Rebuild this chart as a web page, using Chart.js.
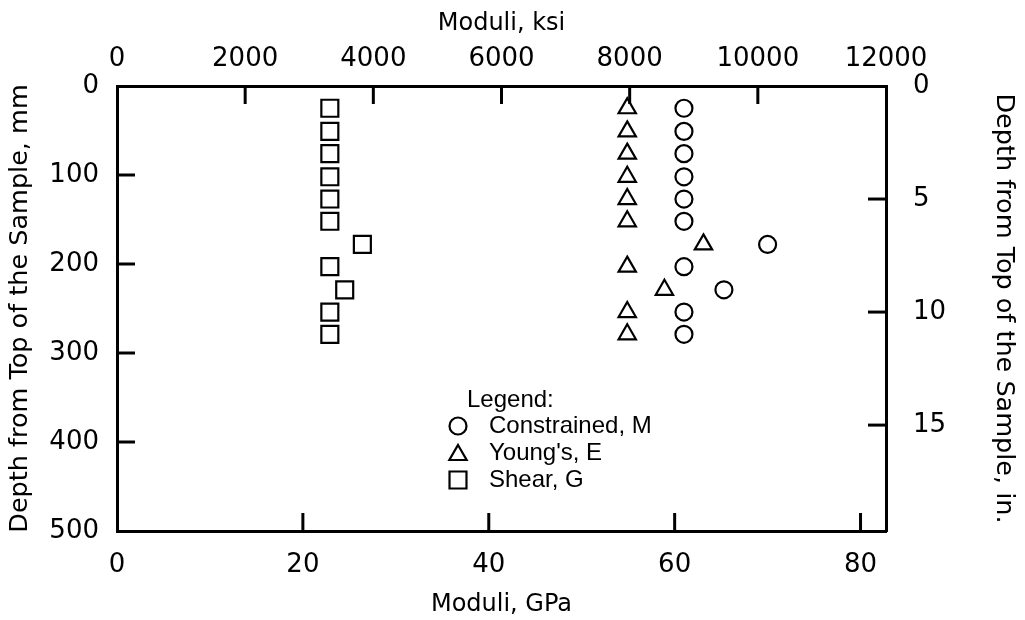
<!DOCTYPE html>
<html>
<head>
<meta charset="utf-8">
<title>Moduli vs depth</title>
<script src="https://cdn.jsdelivr.net/npm/chart.js@4.4.0/dist/chart.umd.min.js"></script>
<style>
    body { margin: 0; background: #fff; }
    #wrap { width: 1025px; height: 620px; }
</style>
</head>
<body>
<div id="wrap"><canvas id="modChart" width="1025" height="620"></canvas></div>
<script>
'use strict';

// depth of each measurement, mm (1 in. steps)
const depthMm = [25, 51, 76, 102, 127, 152, 178, 203, 229, 254, 279];

// moduli, GPa
const constrainedM = [61.0, 61.0, 61.0, 61.0, 61.0, 61.0, 70.0, 61.0, 65.3, 61.0, 61.0];
const youngsE = [54.9, 54.9, 54.9, 54.9, 54.9, 54.9, 63.1, 54.9, 58.9, 54.9, 54.9];
const shearG = [22.9, 22.9, 22.9, 22.9, 22.9, 22.9, 26.4, 22.9, 24.5, 22.9, 22.9];

const seriesNames = ['Constrained, M', "Young's, E", 'Shear, G'];
const seriesStyles = ['circle', 'triangle', 'rect'];
const seriesRadius = [8.5, 10, 12];

// axis limits: 12000 ksi on top == 82.74 GPa on the bottom, 500 mm == 19.685 in.
const gpaMax = 82.74;
const ksiMax = 12000;
const mmMax = 500;
const inMax = 19.685;

const tickFont = { family: 'DejaVu Sans', size: 26 };
const titleFont = { family: 'DejaVu Sans', size: 24 };
const sideTitleFont = { family: 'DejaVu Sans', size: 25.5 };

Chart.defaults.color = '#000';

function toPoints(values) {
    return values.map((v, i) => ({ x: v, y: depthMm[i] }));
}

function makeDataset(i, values) {
    return {
        label: seriesNames[i],
        data: toPoints(values),
        showLine: false,
        pointStyle: seriesStyles[i],
        pointRadius: seriesRadius[i],
        pointHoverRadius: seriesRadius[i],
        pointBorderWidth: 2.2,
        borderColor: '#000',
        backgroundColor: 'rgba(0,0,0,0)',
        xAxisID: 'x',
        yAxisID: 'y'
    };
}

// tick marks pointing into the plot box
const innerTicks = {
    id: 'innerTicks',
    afterDatasetsDraw(chart) {
        const { ctx, chartArea: area, scales } = chart;
        const len = 18;
        ctx.save();
        ctx.strokeStyle = '#000';
        ctx.lineWidth = 3;
        ['x', 'x2', 'y', 'y2'].forEach(id => {
            const s = scales[id];
            s.ticks.forEach(t => {
                if (t.value <= s.min || t.value >= s.max) return;
                const p = s.getPixelForValue(t.value);
                ctx.beginPath();
                if (id === 'x') { ctx.moveTo(p, area.bottom); ctx.lineTo(p, area.bottom - len); }
                if (id === 'x2') { ctx.moveTo(p, area.top); ctx.lineTo(p, area.top + len); }
                if (id === 'y') { ctx.moveTo(area.left, p); ctx.lineTo(area.left + len, p); }
                if (id === 'y2') { ctx.moveTo(area.right, p); ctx.lineTo(area.right - len, p); }
                ctx.stroke();
            });
        });
        ctx.restore();
    }
};

// the "Legend:" block sitting inside the plot
const boxLegend = {
    id: 'boxLegend',
    afterDraw(chart) {
        const ctx = chart.ctx;
        const x0 = 467, markX = 458, textX = 489;
        const rowY = [426, 453, 480];
        ctx.save();
        ctx.fillStyle = '#000';
        ctx.font = '24px "Liberation Sans", Arial, sans-serif';
        ctx.textBaseline = 'middle';
        ctx.fillText('Legend:', x0, 400);
        chart.data.datasets.forEach((ds, i) => {
            ctx.strokeStyle = '#000';
            ctx.fillStyle = 'rgba(0,0,0,0)';
            ctx.lineWidth = 2.2;
            Chart.helpers.drawPoint(ctx, {
                pointStyle: ds.pointStyle,
                radius: ds.pointRadius,
                rotation: 0,
                borderWidth: 2.2
            }, markX, rowY[i] + (ds.pointStyle === 'triangle' ? 2 : 0));
            ctx.fillStyle = '#000';
            ctx.fillText(ds.label, textX, rowY[i]);
        });
        ctx.restore();
    }
};

function axisBase(extra) {
    return Object.assign({
        type: 'linear',
        grid: { display: false },
        border: { display: true, color: '#000', width: 3 },
    }, extra);
}

const chartConfig = {
    type: 'scatter',
    data: {
        datasets: [
            makeDataset(0, constrainedM),
            makeDataset(1, youngsE),
            makeDataset(2, shearG)
        ]
    },
    options: {
        responsive: false,
        animation: false,
        layout: { padding: 0 },
        plugins: {
            legend: { display: false },
            tooltip: { enabled: false }
        },
        scales: {
            x: axisBase({
                position: 'bottom',
                min: 0, max: gpaMax,
                ticks: { stepSize: 20, includeBounds: false, padding: 11, font: tickFont, maxRotation: 0 },
                title: { display: true, text: 'Moduli, GPa', font: titleFont, padding: { top: 0, bottom: 1 } },
                afterFit: s => { s.height = 89; }
            }),
            x2: axisBase({
                position: 'top',
                min: 0, max: ksiMax,
                ticks: { stepSize: 2000, includeBounds: false, padding: 3, font: tickFont, maxRotation: 0,
                         callback: v => String(v) },
                title: { display: true, text: 'Moduli, ksi', font: titleFont, padding: { top: 9, bottom: 0 } },
                afterFit: s => { s.height = 86; }
            }),
            y: axisBase({
                position: 'left',
                reverse: true,
                min: 0, max: mmMax,
                ticks: { stepSize: 100, padding: 10, font: tickFont },
                title: { display: true, text: 'Depth from Top of the Sample, mm',
                         font: sideTitleFont, padding: { top: 5, bottom: 0 } },
                afterFit: s => { s.width = 117; }
            }),
            y2: axisBase({
                position: 'right',
                reverse: true,
                min: 0, max: inMax,
                ticks: { stepSize: 5, includeBounds: false, padding: 19, font: tickFont },
                title: { display: true, text: 'Depth from Top of the Sample, in.',
                         font: sideTitleFont, padding: { top: 6, bottom: 0 } },
                afterFit: s => { s.width = 139; }
            })
        }
    },
    plugins: [innerTicks, boxLegend]
};

const modChart = new Chart(document.getElementById('modChart'), chartConfig);
</script>
</body>
</html>
